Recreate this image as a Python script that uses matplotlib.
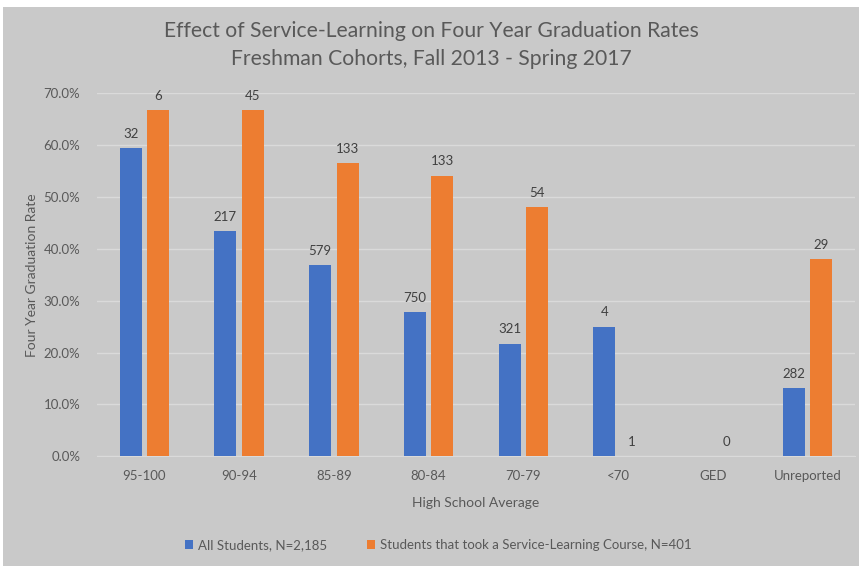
import numpy as np
import matplotlib
matplotlib.use("Agg")
import matplotlib.pyplot as plt
from matplotlib.patches import Rectangle

plt.rcParams['font.family'] = ['Lato', 'DejaVu Sans']

categories = ['95-100', '90-94', '85-89', '80-84', '70-79', '<70', 'GED', 'Unreported']
all_rates = [59.4, 43.4, 36.8, 27.8, 21.7, 25.0, np.nan, 13.1]
sl_rates = [66.7, 66.7, 56.5, 54.1, 48.1, 0.0, 0.0, 38.0]
all_counts = ['32', '217', '579', '750', '321', '4', '', '282']
sl_counts = ['6', '45', '133', '133', '54', '1', '0', '29']

blue = '#4472C4'
orange = '#ED7D31'
bg = '#c9c9c9'
txt = '#595959'

fig = plt.figure(figsize=(8.59, 5.66), dpi=100)
fig.patch.set_facecolor('white')
fig.patches.append(Rectangle((3 / 859, 0), 1, 1 - 7 / 566, transform=fig.transFigure,
                             facecolor=bg, edgecolor='none', zorder=-1))

ax = fig.add_axes([97 / 859, 1 - 456.3 / 566, (855 - 97) / 859, (456.3 - 93.3) / 566])
ax.set_facecolor(bg)
ax.set_zorder(1)

x = np.arange(len(categories))
w = 0.23
off = 0.145
b1 = ax.bar(x - off, all_rates, w, color=blue, label='All Students, N=2,185', zorder=3)
b2 = ax.bar(x + off, sl_rates, w, color=orange,
            label='Students that took a Service-Learning Course, N=401', zorder=3)

for xi, v, c in zip(x, all_rates, all_counts):
    if c:
        ax.annotate(c, (xi - off, v), xytext=(0, 6), textcoords='offset points',
                    ha='center', va='bottom', fontsize=9.5, color='#404040')
for xi, v, c in zip(x, sl_rates, sl_counts):
    ax.annotate(c, (xi + off, v), xytext=(0, 6), textcoords='offset points',
                ha='center', va='bottom', fontsize=9.5, color='#404040')

ax.set_xlim(-0.5, len(categories) - 0.5)
ax.set_ylim(0, 70)
ax.set_yticks(np.arange(0, 71, 10))
ax.set_yticklabels([f'{t:.1f}%' for t in np.arange(0, 71, 10)])
ax.set_xticks(x)
ax.set_xticklabels(categories)
ax.tick_params(axis='both', length=0, colors=txt, labelsize=9.5)
ax.tick_params(axis='x', pad=10)
ax.tick_params(axis='y', pad=12)
ax.grid(axis='y', color='#dadada', linewidth=1, zorder=0)
ax.set_axisbelow(True)
for s in ['top', 'right', 'left']:
    ax.spines[s].set_visible(False)
ax.spines['bottom'].set_color('#dadada')

ax.set_xlabel('High School Average', color=txt, fontsize=10, labelpad=11)
ax.set_ylabel('Four Year Graduation Rate', color=txt, fontsize=10, labelpad=4)

fig.text(0.5 + 3 / 859 / 2, 1 - 31 / 566, 'Effect of Service-Learning on Four Year Graduation Rates',
         ha='center', va='center', fontsize=15.2, color=txt)
fig.text(0.5 + 3 / 859 / 2, 1 - 59 / 566, 'Freshman Cohorts, Fall 2013 - Spring 2017',
         ha='center', va='center', fontsize=15.2, color=txt)

fig.legend(handles=[b1, b2], loc='center', bbox_to_anchor=(0.51, 1 - 545 / 566), ncol=2,
           frameon=False, fontsize=9.5, labelcolor=txt, handlelength=0.6, handleheight=0.6,
           handletextpad=0.4, columnspacing=3)

fig.savefig('out.png', dpi=100, facecolor=fig.get_facecolor())
